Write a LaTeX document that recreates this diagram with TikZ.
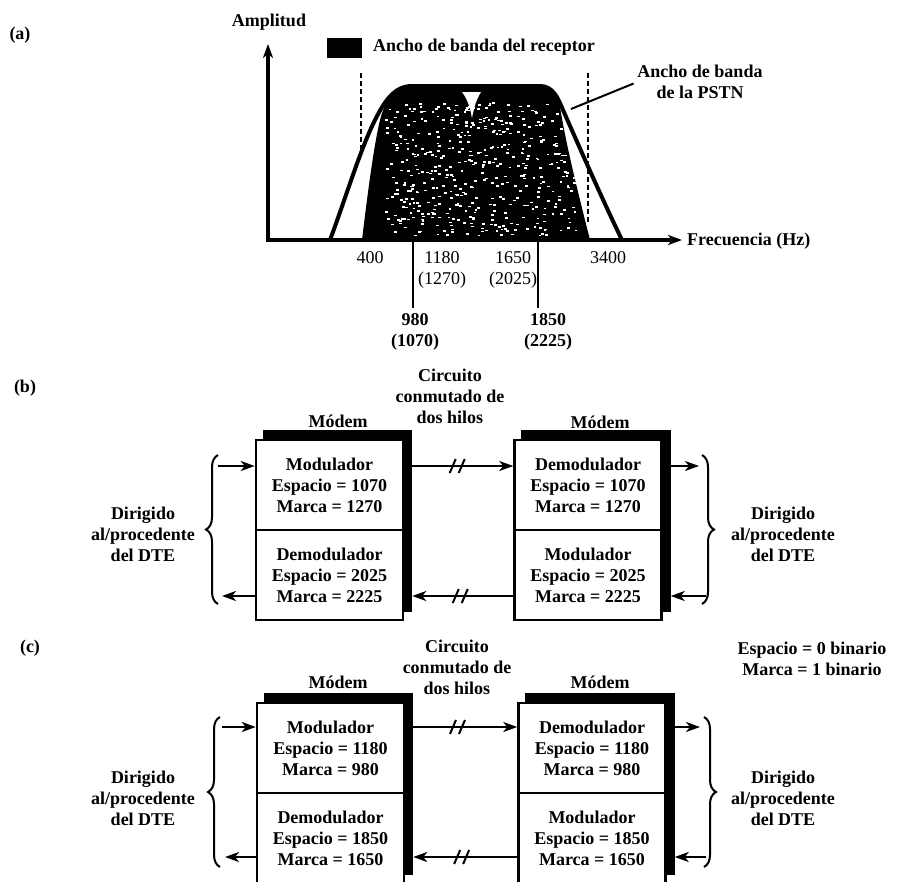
\documentclass[tikz,border=0pt]{standalone}
\usepackage{fontspec}
\setmainfont{Liberation Serif}
\usetikzlibrary{arrows.meta,calc,decorations.pathreplacing}
\pgfdeclarelayer{bg}
\pgfsetlayers{bg,main}
\begin{document}
\begin{tikzpicture}[x=1pt,y=-1pt,
  lbl/.style={font=\bfseries\fontsize{18}{21}\selectfont, align=center, inner sep=0pt},
  num/.style={font=\fontsize{18}{21}\selectfont, align=center, inner sep=0pt},
  half/.style={draw, line width=2.5pt, fill=white, minimum width=147pt, minimum height=90pt,
    font=\bfseries\fontsize{18}{21}\selectfont, align=center, inner sep=0pt},
  arr/.style={line width=2.2pt, -{Stealth[length=14pt,width=10pt,inset=4pt]}},
  brc/.style={line width=2pt, decorate, decoration={brace, amplitude=12pt}},
  axisline/.style={line width=3.2pt},
  tickline/.style={line width=2pt},
  dashline/.style={line width=1.8pt, dash pattern=on 5pt off 3pt},
  brkm/.pic={\draw[line width=2pt] (-8,7) -- (-2,-7) (1,7) -- (7,-7);}
  ]
\useasboundingbox (0,0) rectangle (897,881);

%% ---------------- (a) ----------------
\node[lbl] (la) at (20,35) {(a)};
\node[lbl] (amp) at (269,22) {Amplitud};
\node[fill=black, minimum width=35pt, minimum height=20pt, inner sep=0pt] (leg) at (344.5,48) {};
\node[lbl, anchor=west] (legt) at (373,47) {Ancho de banda del receptor};

% dashed receiver limits
\draw[dashline] (361,73) -- (361,155);
\draw[dashline] (588,73) -- (588,222);

% receptor bandwidth (filled)
\fill (362,240) .. controls (368,190) and (374,145) .. (380,120)
  .. controls (386,97) and (396,86) .. (412,86) -- (540,86)
  .. controls (552,86) and (557,95) .. (560,107)
  .. controls (567,150) and (580,200) .. (590,240) -- cycle;
\begin{scope}
  \clip (362,240) .. controls (368,190) and (374,145) .. (380,120)
    .. controls (386,97) and (396,86) .. (412,86) -- (540,86)
    .. controls (552,86) and (557,95) .. (560,107)
    .. controls (567,150) and (580,200) .. (590,240) -- cycle;
  \pgfmathsetseed{7}
  \foreach \i in {1,...,480}{
    \pgfmathsetmacro\rx{385+190*rnd}
    \pgfmathsetmacro\ry{102+133*rnd}
    \fill[white] (\rx,\ry) rectangle ++(2.8,1.6);
  }
\end{scope}
% PSTN bandwidth outline
\draw[line width=4pt] (330,240) .. controls (345,200) and (360,150) .. (375,120)
  .. controls (385,100) and (395,86) .. (412,86) -- (540,86)
  .. controls (553,86) and (558,98) .. (563,110)
  .. controls (585,160) and (605,205) .. (622,240);
% notch
\fill[white] (462,92) .. controls (468,100) and (470,108) .. (472,118)
  .. controls (474,108) and (476,100) .. (481,92) -- cycle;

% axes
\draw[axisline, {Stealth[length=14pt,width=10pt,inset=4pt]}-{Stealth[length=14pt,width=10pt,inset=4pt]}] (268,44) -- (268,240) -- (682,240);
\node[lbl, anchor=west] (freq) at (687,241) {Frecuencia (Hz)};

% PSTN label
\node[lbl] (pstn) at (700,82) {Ancho de banda\\de la PSTN};
\coordinate (pstnp) at (571,109);
\draw[line width=2pt, shorten <=4pt] (pstn.west) -- (pstnp);

% tick labels
\node[num] (t400) at (370,258) {400};
\node[num] (t1180) at (442,258) {1180};
\node[num] (t1270) at (442,280) {(1270)};
\node[num] (t1650) at (513,258) {1650};
\node[num] (t2025) at (513,280) {(2025)};
\node[num] (t3400) at (608,258) {3400};
\draw[tickline] (413,240) -- (413,308);
\draw[tickline] (538,240) -- (538,308);
\node[lbl] (t980) at (415,332) {980\\(1070)};
\node[lbl] (t1850) at (548,332) {1850\\(2225)};

%% ---------------- (b) ----------------
\node[lbl] (lb) at (25,388) {(b)};
\node[lbl] (circb) at (450,396) {Circuito\\conmutado de\\dos hilos};

\node[half] (bLm) at (329.5,485) {Modulador\\Espacio = 1070\\Marca = 1270};
\node[half] (bLd) at (329.5,575) {Demodulador\\Espacio = 2025\\Marca = 2225};
\node[half] (bRd) at (588,485) {Demodulador\\Espacio = 1070\\Marca = 1270};
\node[half] (bRm) at (588,575) {Modulador\\Espacio = 2025\\Marca = 2225};
\node[lbl] (mb1) at (338,421) {Módem};
\node[lbl] (mb2) at (600,422) {Módem};
\begin{pgfonlayer}{bg}
  \fill ($(bLm.north west)+(8,-9)$) rectangle ($(bLd.south east)+(8,-9)$);
  \fill ($(bRd.north west)+(8,-9)$) rectangle ($(bRm.south east)+(8,-9)$);
\end{pgfonlayer}

\draw[arr] ([xshift=8pt,yshift=19pt]bLm.east) -- coordinate[pos=0.45] (bkb1) ([yshift=19pt]bRd.west);
\pic at (bkb1) {brkm};
\draw[arr] ([yshift=-21pt]bRm.west) -- coordinate[pos=0.52] (bkb2) ([xshift=8pt,yshift=-21pt]bLd.east);
\pic at (bkb2) {brkm};

\coordinate (bLbt) at (218,466);
\coordinate (bLbb) at (222,596);
\draw[arr] (bLbt) -- ([yshift=19pt]bLm.west);
\draw[arr] ([yshift=-21pt]bLd.west) -- (bLbb);
\draw[brc] (218,604) -- (218,455);
\node[lbl] (dLb) at (143,534) {Dirigido\\al/procedente\\del DTE};

\coordinate (bRbt) at (699,466);
\coordinate (bRbb) at (706,596);
\draw[arr] ([xshift=8pt,yshift=19pt]bRd.east) -- (bRbt);
\draw[arr] (bRbb) -- ([xshift=8pt,yshift=-21pt]bRm.east);
\draw[brc] (702,455) -- (702,604);
\node[lbl] (dRb) at (783,534) {Dirigido\\al/procedente\\del DTE};

%% ---------------- (c) ----------------
\node[lbl] (lc) at (30,648) {(c)};
\node[lbl] (circc) at (457,667) {Circuito\\conmutado de\\dos hilos};
\node[lbl] (bin) at (812,659) {Espacio = 0 binario\\Marca = 1 binario};

\node[half] (cLm) at (330.5,748) {Modulador\\Espacio = 1180\\Marca = 980};
\node[half] (cLd) at (330.5,838) {Demodulador\\Espacio = 1850\\Marca = 1650};
\node[half] (cRd) at (592,748) {Demodulador\\Espacio = 1180\\Marca = 980};
\node[half] (cRm) at (592,838) {Modulador\\Espacio = 1850\\Marca = 1650};
\node[lbl] (mc1) at (338,682) {Módem};
\node[lbl] (mc2) at (600,682) {Módem};
\begin{pgfonlayer}{bg}
  \fill ($(cLm.north west)+(8,-9)$) rectangle ($(cLd.south east)+(8,-9)$);
  \fill ($(cRd.north west)+(8,-9)$) rectangle ($(cRm.south east)+(8,-9)$);
\end{pgfonlayer}

\draw[arr] ([xshift=8pt,yshift=21pt]cLm.east) -- coordinate[pos=0.43] (bkc1) ([yshift=21pt]cRd.west);
\pic at (bkc1) {brkm};
\draw[arr] ([yshift=-19pt]cRm.west) -- coordinate[pos=0.53] (bkc2) ([xshift=8pt,yshift=-19pt]cLd.east);
\pic at (bkc2) {brkm};

\coordinate (cLbt) at (222,727);
\coordinate (cLbb) at (225,857);
\draw[arr] (cLbt) -- ([yshift=21pt]cLm.west);
\draw[arr] ([yshift=-19pt]cLd.west) -- (cLbb);
\draw[brc] (220,867) -- (220,717);
\node[lbl] (dLc) at (143,798) {Dirigido\\al/procedente\\del DTE};

\coordinate (cRbt) at (700,727);
\coordinate (cRbb) at (706,857);
\draw[arr] ([xshift=8pt,yshift=21pt]cRd.east) -- (cRbt);
\draw[arr] (cRbb) -- ([xshift=8pt,yshift=-19pt]cRm.east);
\draw[brc] (704,717) -- (704,867);
\node[lbl] (dRc) at (783,798) {Dirigido\\al/procedente\\del DTE};
\end{tikzpicture}
\end{document}
